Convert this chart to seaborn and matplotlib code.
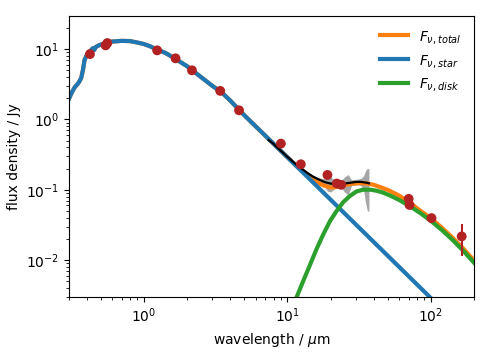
import matplotlib
matplotlib.use("Agg")
import matplotlib.pyplot as plt
import numpy as np
import seaborn as sns

# stellar photosphere model (Jy)
wl_star = [0.30, 0.31, 0.32, 0.33, 0.345, 0.355, 0.365, 0.375, 0.385, 0.40,
           0.42, 0.44, 0.45, 0.46, 0.48, 0.50, 0.55, 0.60, 0.70, 0.80,
           0.90, 1.0, 1.1, 1.2, 1.4, 1.6, 2.0, 2.5, 3.0, 3.5,
           4.0, 5.0, 7.0, 10.0, 15.0, 20.0, 30.0, 50.0, 100.0, 200.0]
f_star = [1.97, 2.3, 2.6, 2.9, 3.2, 3.5, 3.9, 5.0, 7.0, 8.3,
          9.3, 10.3, 9.7, 10.7, 11.2, 11.6, 12.3, 12.8, 13.1, 13.0,
          12.4, 11.8, 11.0, 10.1, 8.9, 7.6, 5.7, 4.0, 3.0, 2.4,
          1.85, 1.15, 0.59, 0.29, 0.129, 0.0725, 0.0322, 0.0116, 0.0029, 0.000725]

# disk model (Jy)
wl_disk = [11.6, 12.9, 14.4, 16.0, 17.8, 19.8, 22.0, 24.5, 27.3, 30.3, 33.7,
           38.0, 42.0, 46.0, 52.0, 60.0, 71.0, 85.0, 101.0, 120.0, 143.0,
           170.0, 200.0]
f_disk = [0.0030, 0.0051, 0.0087, 0.0146, 0.0234, 0.036, 0.050, 0.067, 0.082,
          0.095, 0.1005, 0.1005, 0.097, 0.092, 0.083, 0.072, 0.059, 0.0463,
          0.0357, 0.0266, 0.0191, 0.0133, 0.0092]

# total model (Jy): same as star below 10 um, then star + disk
wl_total = wl_star[:34] + [12.0, 14.0, 16.0, 18.0, 20.0, 22.0, 25.0, 28.0, 32.0,
                           36.0, 40.0, 50.0, 60.0, 71.0, 85.0, 101.0, 120.0,
                           143.0, 170.0, 200.0]
f_total = f_star[:34] + [0.205, 0.156, 0.128, 0.115, 0.108, 0.110, 0.117, 0.122,
                         0.125, 0.123, 0.118, 0.100, 0.083, 0.066, 0.050,
                         0.039, 0.0286, 0.0205, 0.0143, 0.0099]

# IRS spectrum (Jy) and uncertainty
wl_spec = [7.4, 8.0, 8.6, 9.2, 9.8, 10.5, 11.2, 12.0, 13.0, 14.0, 15.0, 16.0,
           17.0, 18.0, 19.0, 20.0, 21.0, 22.0, 23.5, 25.0, 26.5, 28.0, 29.5,
           31.0, 32.5, 34.0, 35.0, 36.0, 37.0]
f_spec = [0.51, 0.45, 0.39, 0.345, 0.305, 0.27, 0.24, 0.215, 0.19, 0.17, 0.155,
          0.145, 0.137, 0.130, 0.126, 0.123, 0.121, 0.120, 0.121, 0.123, 0.125,
          0.127, 0.129, 0.130, 0.130, 0.128, 0.127, 0.126, 0.124]
e_spec = [0.02, 0.018, 0.015, 0.013, 0.012, 0.011, 0.01, 0.01, 0.009, 0.008,
          0.008, 0.008, 0.009, 0.015, 0.03, 0.03, 0.02, 0.01, 0.01, 0.03,
          0.04, 0.012, 0.012, 0.012, 0.015, 0.03, 0.06, 0.075, 0.075]

# photometry (Jy)
wl_phot = [0.42, 0.54, 0.555, 1.235, 1.66, 2.16, 3.4, 4.6, 9.0, 12.4, 19.0,
           22.1, 23.7, 70.0, 71.0, 101.0, 164.0]
f_phot = [8.5, 11.3, 12.2, 9.6, 7.4, 5.0, 2.55, 1.35, 0.454, 0.231, 0.163,
          0.123, 0.118, 0.0745, 0.061, 0.0397, 0.0218]
e_phot = [0.2, 0.3, 0.3, 0.2, 0.15, 0.1, 0.25, 0.05, 0.01, 0.005, 0.005,
          0.003, 0.003, 0.003, 0.003, 0.002, 0.0105]

fig = plt.figure(figsize=(4.91, 3.57), dpi=100)
ax = fig.add_axes([0.1405, 0.168, 0.825, 0.787])

sns.lineplot(x=wl_total, y=f_total, ax=ax, color="#ff7f0e", lw=3, sort=False,
             label=r"$F_{\nu, total}$")
sns.lineplot(x=wl_star, y=f_star, ax=ax, color="#1f77b4", lw=3, sort=False,
             label=r"$F_{\nu, star}$")
sns.lineplot(x=wl_disk, y=f_disk, ax=ax, color="#2ca02c", lw=3, sort=False,
             label=r"$F_{\nu, disk}$")

lo = np.array(f_spec) - np.array(e_spec)
hi = np.array(f_spec) + np.array(e_spec)
ax.fill_between(wl_spec, lo, hi, color="grey", alpha=0.7, lw=0)
sns.lineplot(x=wl_spec, y=f_spec, ax=ax, color="k", lw=1.6, sort=False,
             legend=False)

ax.errorbar(wl_phot, f_phot, yerr=e_phot, fmt="none", ecolor="firebrick",
            elinewidth=1.5, zorder=5)
sns.scatterplot(x=wl_phot, y=f_phot, ax=ax, color="firebrick", s=50,
                edgecolor="none", zorder=6, legend=False)

ax.set_xscale("log")
ax.set_yscale("log")
ax.set_xlim(0.3, 200)
ax.set_ylim(0.003, 29.5)
ax.set_xlabel(r"wavelength / $\mu$m")
ax.set_ylabel("flux density / Jy")
ax.legend(loc="upper right", frameon=False)

fig.savefig("out.png", dpi=100)
